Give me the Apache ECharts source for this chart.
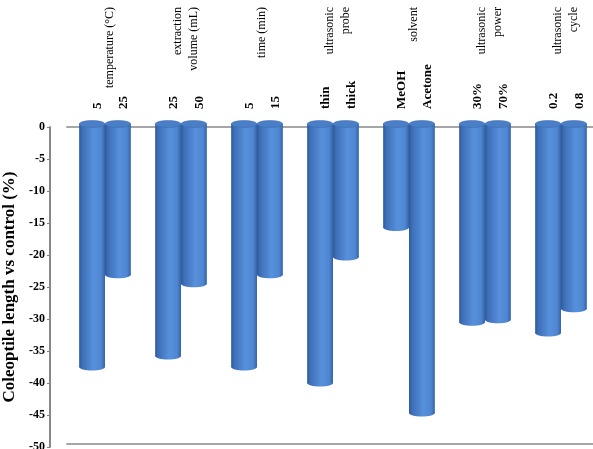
<!DOCTYPE html>
<html>
<head>
<meta charset="utf-8">
<script src="https://cdn.jsdelivr.net/npm/echarts@6/dist/echarts.min.js"></script>
<style>
  html, body { margin: 0; padding: 0; background: #fff; }
  #chart { width: 593px; height: 449px; }
</style>
</head>
<body>
<div id="chart"></div>
<script>
// groupes de paramètres (axe du haut)
const groups = [
  "temperature (°C)",
  "extraction\nvolume (mL)",
  "time (min)",
  "ultrasonic\nprobe",
  "solvent",
  "ultrasonic\npower",
  "ultrasonic\ncycle"
];

// niveaux : premier et second cylindre de chaque groupe
const levelsA = ["5", "25", "5", "thin", "MeOH", "30%", "0.2"];
const levelsB = ["25", "50", "15", "thick", "Acetone", "70%", "0.8"];

// longueur du coléoptile vs témoin (%)
const valuesA = [-37.5, -35.8, -37.5, -40.0, -15.7, -30.5, -32.2];
const valuesB = [-23.1, -24.5, -23.1, -20.3, -44.7, -30.1, -28.4];

const yTicks = { min: -50, max: 0, step: 5 };

const serif = "'Liberation Serif', 'DejaVu Serif', serif";

// rendu d'un cylindre (side 0 = gauche, 1 = droite)
function cylinder(side, levels) {
  return function (params, api) {
    const cat = api.value(0);
    const val = api.value(1);
    const top = api.coord([cat, 0]);
    const end = api.coord([cat, val]);
    const band = api.size([1, 0])[0];
    const w = band * 0.34;
    const x0 = side === 0 ? top[0] - w : top[0];
    const cx = x0 + w / 2;
    const grad = new echarts.graphic.LinearGradient(0, 0, 1, 0, [
      { offset: 0, color: "#2f5a9a" },
      { offset: 0.12, color: "#3e6fb8" },
      { offset: 0.55, color: "#5790dc" },
      { offset: 0.85, color: "#4f86d2" },
      { offset: 1, color: "#3563a6" }
    ]);
    return {
      type: "group",
      children: [
        {
          type: "rect",
          shape: { x: x0, y: top[1] - 3, width: w, height: end[1] - top[1] + 3 },
          style: { fill: grad }
        },
        {
          type: "ellipse",
          shape: { cx: cx, cy: end[1], rx: w / 2, ry: 3.5 },
          style: { fill: grad }
        },
        {
          type: "ellipse",
          shape: { cx: cx, cy: top[1] - 3, rx: w / 2, ry: 3.5 },
          style: { fill: "#4a7ec6", stroke: "#3b6aae", lineWidth: 0.5 }
        },
        {
          type: "text",
          x: cx + 6,
          y: top[1] - 18,
          rotation: Math.PI / 2,
          style: {
            text: levels[params.dataIndex],
            fill: "#000",
            font: "bold 13px " + serif,
            align: "left",
            verticalAlign: "middle"
          }
        }
      ]
    };
  };
}

const chart = echarts.init(document.getElementById("chart"));

const option = {
  animation: false,
  backgroundColor: "#fff",
  grid: [
    { left: 67, right: -6, top: 127, bottom: 2, containLabel: false, outerBoundsMode: "none" },
    { left: 72, right: -11, top: 127, bottom: 2, containLabel: false, outerBoundsMode: "none" }
  ],
  xAxis: [
    {
      type: "category",
      gridIndex: 0,
      position: "top",
      offset: 6,
      data: groups,
      axisLine: { show: true, lineStyle: { color: "#a6a6a6", width: 2 } },
      axisTick: { show: false },
      axisLabel: { show: false }
    },
    {
      type: "category",
      gridIndex: 1,
      position: "top",
      data: groups,
      axisLine: { show: false },
      axisTick: { show: false },
      axisLabel: {
        rotate: 90,
        margin: 120,
        align: "right",
        fontFamily: serif,
        fontSize: 12,
        lineHeight: 16,
        color: "#000"
      }
    },
    {
      type: "category",
      gridIndex: 0,
      position: "bottom",
      offset: -3,
      data: groups,
      axisLine: { show: true, lineStyle: { color: "#a6a6a6", width: 2 } },
      axisTick: { show: false },
      axisLabel: { show: false }
    }
  ],
  yAxis: [
    {
      type: "value",
      gridIndex: 0,
      min: yTicks.min,
      max: yTicks.max,
      interval: yTicks.step,
      offset: 17,
      name: "Coleoptile length vs control (%)",
      nameLocation: "middle",
      nameGap: 25,
      nameTextStyle: {
        fontFamily: serif,
        fontWeight: "bold",
        fontSize: 17,
        color: "#000"
      },
      axisLine: { show: true, onZero: false, lineStyle: { color: "#808080", width: 1.5 } },
      axisTick: { show: true, length: 3, lineStyle: { color: "#808080" } },
      axisLabel: {
        fontFamily: serif,
        fontWeight: "bold",
        fontSize: 12,
        color: "#000",
        margin: 5
      },
      splitLine: { show: false }
    },
    {
      type: "value",
      gridIndex: 1,
      min: yTicks.min,
      max: yTicks.max,
      offset: 22,
      axisLine: { show: true, onZero: false, lineStyle: { color: "#808080", width: 1.5 } },
      axisTick: { show: false },
      axisLabel: { show: false },
      splitLine: { show: false }
    }
  ],
  series: [
    {
      type: "custom",
      xAxisIndex: 0,
      yAxisIndex: 0,
      renderItem: cylinder(0, levelsA),
      data: valuesA.map((v, i) => [i, v])
    },
    {
      type: "custom",
      xAxisIndex: 0,
      yAxisIndex: 0,
      renderItem: cylinder(1, levelsB),
      data: valuesB.map((v, i) => [i, v])
    }
  ]
};

chart.setOption(option);
</script>
</body>
</html>
